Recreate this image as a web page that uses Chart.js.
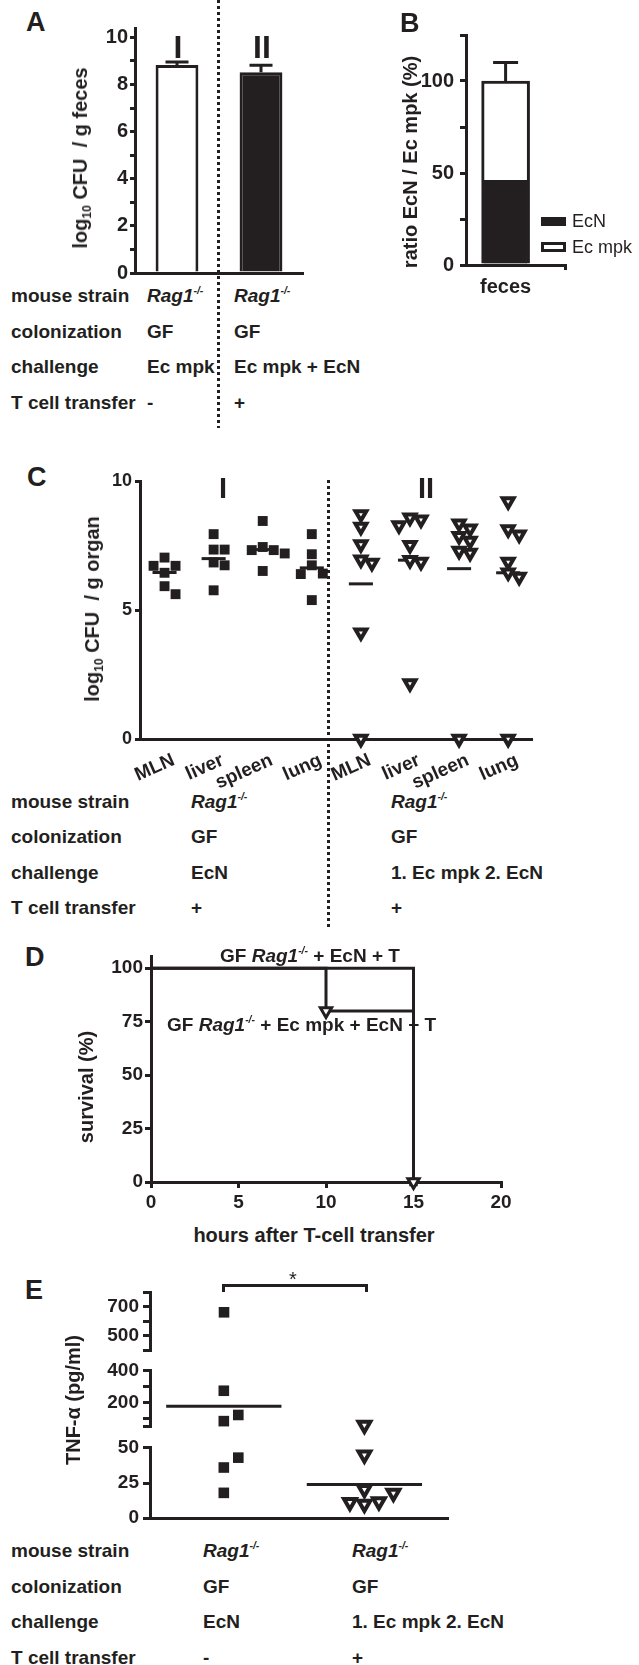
<!DOCTYPE html>
<html><head><meta charset="utf-8">
<script src="https://cdn.jsdelivr.net/npm/chart.js@4.4.1/dist/chart.umd.min.js"></script>
<style>
html,body{margin:0;padding:0;background:#fff;}
#fig{position:relative;width:639px;height:1665px;overflow:hidden;background:#fff;font-family:'Liberation Sans',Arial,Helvetica,sans-serif;font-weight:bold;color:#231f20;}
#fig canvas{position:absolute;}
.t{position:absolute;white-space:nowrap;line-height:1;}
.dots{position:absolute;width:3px;background:repeating-linear-gradient(to bottom,#231f20 0,#231f20 3px,transparent 3px,transparent 6px);}
sup{font-size:0.55em;vertical-align:0.75em;line-height:0;font-style:italic;}
sub{font-size:0.6em;vertical-align:-0.3em;line-height:0;}
</style></head><body><div id="fig"></div>
<script>
// ---------------- DATA ----------------
// Panel A
const A_groups = ['I', 'II'];
const A_log10CFU = [8.83, 8.52];
const A_sem = [0.13, 0.30];
const A_yTicks = [0, 1, 2, 3, 4, 5, 6, 7, 8, 9, 10];
const A_yLabels = [0, 2, 4, 6, 8, 10];
const A_colI = ['Rag1-/-', 'GF', 'Ec mpk', '-'];
const A_colII = ['Rag1-/-', 'GF', 'Ec mpk + EcN', '+'];
// Panel B
const B_categories = ['feces'];
const B_series = ['EcN', 'Ec mpk'];
const B_EcN = [46];
const B_Ecmpk = [54];
const B_sem = [10];
const B_yTicks = [0, 25, 50, 75, 100, 125];
const B_yLabels = [0, 50, 100];
// Panel C
const C_categories = ['MLN', 'liver', 'spleen', 'lung', 'MLN', 'liver', 'spleen', 'lung'];
const C_I_MLN = [7.04, 6.72, 6.72, 6.45, 5.93, 5.62];
const C_I_liver = [7.95, 7.35, 7.35, 6.85, 6.74, 5.77];
const C_I_spleen = [8.46, 7.45, 7.33, 7.33, 7.2, 6.52];
const C_I_lung = [7.95, 7.17, 6.74, 6.42, 6.40, 5.39];
const C_II_MLN = [8.72, 8.23, 7.55, 6.96, 6.83, 4.13, 0];
const C_II_liver = [8.59, 8.51, 8.29, 7.52, 6.94, 6.87, 2.16];
const C_II_spleen = [8.36, 8.16, 7.87, 7.69, 7.30, 7.22, 0];
const C_II_lung = [9.22, 8.13, 7.93, 6.87, 6.46, 6.29, 0];
const C_I_means = [6.46, 7.0, 7.35, 6.64];
const C_II_means = [6.02, 6.94, 6.61, 6.45];
const C_yTicks = [0, 5, 10];
const C_colI = ['Rag1-/-', 'GF', 'EcN', '+'];
const C_colII = ['Rag1-/-', 'GF', '1. Ec mpk 2. EcN', '+'];
// Panel D
const D_hours_EcN = [0, 15];
const D_surv_EcN = [100, 0];
const D_hours_mpkEcN = [0, 10, 15];
const D_surv_mpkEcN = [100, 80, 0];
const D_xTicks = [0, 5, 10, 15, 20];
const D_yTicks = [0, 25, 50, 75, 100];
// Panel E
const E_categories = ['EcN', '1. Ec mpk 2. EcN'];
const E_EcN = [660, 274, 82, 121, 36, 43, 18];
const E_mpkEcN = [57, 45, 20.4, 9.9, 11.8, 11.2, 17.8];
const E_means = [176, 24];
const E_ticksLow = [0, 25, 50], E_labelsLow = [0, 25, 50];
const E_ticksMid = [50, 100, 200, 300, 400], E_labelsMid = [200, 400];
const E_ticksHigh = [400, 500, 600, 700, 800], E_labelsHigh = [500, 700];
const E_colI = ['Rag1-/-', 'GF', 'EcN', '-'];
const E_colII = ['Rag1-/-', 'GF', '1. Ec mpk 2. EcN', '+'];
const T_rows = ['mouse strain', 'colonization', 'challenge', 'T cell transfer'];

// ---------------- HELPERS ----------------
const INK = '#231f20';
const fig = document.getElementById('fig');
Chart.defaults.font.family = "'Liberation Sans', Arial, Helvetica, sans-serif";
Chart.defaults.font.weight = 'bold';
Chart.defaults.color = INK;

function mount(area, m, config) {
  const W = area.r - area.l + m.l + m.r, H = area.b - area.t + m.t + m.b;
  const c = document.createElement('canvas');
  c.width = W; c.height = H;
  c.style.left = (area.l - m.l) + 'px'; c.style.top = (area.t - m.t) + 'px';
  c.style.width = W + 'px'; c.style.height = H + 'px';
  fig.appendChild(c);
  const o = config.options;
  o.responsive = false; o.maintainAspectRatio = false; o.animation = false; o.devicePixelRatio = 1;
  o.layout = { padding: { left: 0, top: m.t, right: m.r, bottom: 0 } };
  o.plugins = Object.assign({ legend: { display: false }, tooltip: { enabled: false } }, o.plugins || {});
  o.scales.x.afterFit = s => { s.height = m.b; s.paddingLeft = 0; s.paddingRight = 0; s.paddingTop = 0; s.paddingBottom = 0; };
  o.scales.y.afterFit = s => { s.width = m.l; s.paddingTop = 0; s.paddingBottom = 0; s.paddingLeft = 0; s.paddingRight = 0; };
  return new Chart(c, config);
}

function yAxis(min, max, ticks, labels, o = {}) {
  return {
    type: 'linear', min, max, bounds: 'data', stacked: !!o.stacked,
    afterBuildTicks: s => { s.ticks = ticks.map(v => ({ value: v })); },
    border: { color: INK, width: 3 },
    grid: { drawOnChartArea: false, color: INK, lineWidth: 3, tickLength: o.tl ?? 6 },
    ticks: { autoSkip: false, color: INK, padding: o.pad ?? 3, font: { size: o.fs ?? 19, weight: 'bold' },
      callback: v => labels.includes(v) ? String(v) : '' }
  };
}

const errPlugin = {
  id: 'errbars',
  afterDatasetsDraw(chart) {
    const ctx = chart.ctx, ys = chart.scales.y;
    chart.data.datasets.forEach((ds, di) => {
      if (!ds.errorPlus) return;
      chart.getDatasetMeta(di).data.forEach((bar, i) => {
        const topVal = ys.getValueForPixel(bar.y);
        const yErr = ys.getPixelForValue(topVal + ds.errorPlus[i]);
        const half = (ds.capWidth || 24) / 2;
        ctx.save(); ctx.strokeStyle = INK; ctx.lineWidth = 3;
        ctx.beginPath(); ctx.moveTo(bar.x, bar.y); ctx.lineTo(bar.x, yErr);
        ctx.moveTo(bar.x - half, yErr); ctx.lineTo(bar.x + half, yErr); ctx.stroke(); ctx.restore();
      });
    });
  }
};

// beeswarm: spread overlapping points of each group sideways (pixel space via chart scales)
function swarm(chart, groups, groupX, stepPx, sizePx) {
  const xs = chart.scales.x, ys = chart.scales.y;
  const unit = xs.getPixelForValue(1) - xs.getPixelForValue(0);
  const out = [];
  groups.forEach((vals, g) => {
    const placed = [];
    vals.forEach(v => {
      const py = ys.getPixelForValue(v);
      let o = 0;
      for (let k = 0; k < 30; k++) {
        o = k === 0 ? 0 : (k % 2 ? 1 : -1) * Math.ceil(k / 2);
        if (placed.every(p => p.o !== o || Math.abs(p.py - py) >= sizePx)) break;
      }
      placed.push({ o, py });
      out.push({ x: groupX[g] + o * stepPx / unit, y: v });
    });
  });
  return out;
}

function txt(html, x, y, o = {}) {
  const d = document.createElement('div');
  d.className = 't';
  d.innerHTML = html;
  d.style.left = x + 'px'; d.style.top = y + 'px';
  d.style.fontSize = (o.size || 19) + 'px';
  if (o.weight) d.style.fontWeight = o.weight;
  let tf = o.align === 'center' ? 'translate(-50%,-50%)' : 'translate(0,-50%)';
  if (o.rot) tf = 'translate(-50%,-50%) rotate(-90deg)';
  d.style.transform = tf;
  fig.appendChild(d);
  return d;
}
const fmt = s => s.replace('Rag1-/-', '<i>Rag1</i><sup>-/-</sup>');
function table(rowsY, colIx, colI, colIIx, colII) {
  T_rows.forEach((r, i) => {
    txt(r, 11, rowsY[i]);
    txt(fmt(colI[i]), colIx, rowsY[i]);
    txt(fmt(colII[i]), colIIx, rowsY[i]);
  });
}
function dots(x, y1, y2) {
  const d = document.createElement('div');
  d.className = 'dots'; d.style.left = x + 'px'; d.style.top = y1 + 'px'; d.style.height = (y2 - y1) + 'px';
  fig.appendChild(d);
}

// ---------------- PANEL A ----------------
mount({ l: 135, t: 28, r: 303, b: 273 }, { l: 75, t: 6, r: 6, b: 6 }, {
  type: 'bar',
  data: { labels: A_groups, datasets: [{
    data: A_log10CFU, errorPlus: A_sem, capWidth: 23,
    backgroundColor: ['#ffffff', INK], borderColor: INK, borderWidth: 3, borderSkipped: 'bottom',
    barPercentage: 0.51, categoryPercentage: 1
  }] },
  options: { scales: {
    x: { type: 'category', offset: true, grid: { display: false }, border: { color: INK, width: 3 }, ticks: { display: false } },
    y: yAxis(0, 10.4, A_yTicks, A_yLabels, { tl: 5, pad: 2, fs: 20 })
  } },
  plugins: [errPlugin]
});

// ---------------- PANEL B ----------------
mount({ l: 466, t: 35, r: 565, b: 265 }, { l: 60, t: 6, r: 6, b: 36 }, {
  type: 'bar',
  data: { datasets: [
    { label: B_series[0], data: B_EcN.map((v, i) => ({ x: i, y: v })), backgroundColor: INK, borderColor: INK, borderWidth: 3, barThickness: 48, borderSkipped: 'bottom' },
    { label: B_series[1], data: B_Ecmpk.map((v, i) => ({ x: i, y: v })), errorPlus: B_sem, capWidth: 25, backgroundColor: '#ffffff', borderColor: INK, borderWidth: 3, barThickness: 48, borderSkipped: 'bottom' }
  ] },
  options: { scales: {
    x: { type: 'linear', min: -0.8, max: 1.2, bounds: 'data', stacked: true, offset: false,
      afterBuildTicks: s => { s.ticks = B_categories.map((c, i) => ({ value: i })); },
      grid: { drawOnChartArea: false, color: INK, lineWidth: 3, tickLength: 5 }, border: { color: INK, width: 3 },
      ticks: { autoSkip: false, padding: 5, color: INK, font: { size: 20, weight: 'bold' }, callback: v => B_categories[v] ?? '' } },
    y: yAxis(0, 125, B_yTicks, B_yLabels, { tl: 6, pad: 6, fs: 20, stacked: true })
  } },
  plugins: [errPlugin]
});

// ---------------- PANEL C ----------------
const C_I = [C_I_MLN, C_I_liver, C_I_spleen, C_I_lung];
const C_II = [C_II_MLN, C_II_liver, C_II_spleen, C_II_lung];
const C_means = [...C_I_means, ...C_II_means];
const chartC = mount({ l: 140, t: 481, r: 533, b: 739 }, { l: 62, t: 10, r: 10, b: 50 }, {
  type: 'scatter',
  data: { datasets: [
    { data: C_I.flatMap((vals, g) => vals.map(v => ({ x: g, y: v }))), pointStyle: 'rect', pointRadius: 7, pointBackgroundColor: INK, pointBorderWidth: 0, clip: false },
    { data: C_II.flatMap((vals, g) => vals.map(v => ({ x: g + 4, y: v }))), pointStyle: 'triangle', pointRotation: 180, pointRadius: 6.3, pointBackgroundColor: '#ffffff', pointBorderColor: INK, pointBorderWidth: 4, clip: false },
    ...C_means.map((mv, g) => ({ data: [{ x: g - 0.245, y: mv }, { x: g + 0.245, y: mv }], showLine: true, pointRadius: 0, borderColor: INK, borderWidth: 3, clip: false }))
  ] },
  options: { scales: {
    x: { type: 'linear', min: -0.5, max: 7.5, bounds: 'data', grid: { display: false }, border: { color: INK, width: 3 },
      afterBuildTicks: s => { s.ticks = C_categories.map((_, i) => ({ value: i })); },
      ticks: { autoSkip: false, minRotation: 24, maxRotation: 24, labelOffset: 9, padding: 2, color: INK, font: { size: 19, weight: 'bold' }, callback: v => C_categories[v] } },
    y: yAxis(0, 10, C_yTicks, C_yTicks, { tl: 5, pad: 3, fs: 18 })
  } }
});
chartC.data.datasets[0].data = swarm(chartC, C_I, [0, 1, 2, 3], 11, 10);
chartC.data.datasets[1].data = swarm(chartC, C_II, [4, 5, 6, 7], 11, 10);
chartC.update('none');

// ---------------- PANEL D ----------------
mount({ l: 151, t: 953, r: 501, b: 1182 }, { l: 70, t: 6, r: 16, b: 36 }, {
  type: 'line',
  data: { datasets: [
    { data: D_hours_mpkEcN.map((h, i) => ({ x: h, y: D_surv_mpkEcN[i] })), stepped: 'before', borderColor: INK, borderWidth: 3, fill: false, clip: false,
      pointStyle: 'triangle', pointRotation: 180, pointRadius: c => c.dataIndex > 0 ? 6.5 : 0, pointBackgroundColor: '#ffffff', pointBorderColor: INK, pointBorderWidth: 3 },
    { data: D_hours_EcN.map((h, i) => ({ x: h, y: D_surv_EcN[i] })), stepped: 'before', borderColor: INK, borderWidth: 3, fill: false, clip: false,
      pointStyle: 'rect', pointRadius: c => c.dataIndex === D_hours_EcN.length - 1 ? 6 : 0, pointBackgroundColor: INK, pointBorderWidth: 0 }
  ] },
  options: { scales: {
    x: { type: 'linear', min: 0, max: 20, bounds: 'data',
      afterBuildTicks: s => { s.ticks = D_xTicks.map(v => ({ value: v })); },
      grid: { drawOnChartArea: false, color: INK, lineWidth: 3, tickLength: 6 }, border: { color: INK, width: 3 },
      ticks: { autoSkip: false, padding: 3, color: INK, font: { size: 19, weight: 'bold' }, maxRotation: 0 } },
    y: yAxis(0, 105.5, D_yTicks, D_yTicks, { tl: 6, pad: 2, fs: 19 })
  } }
});

// ---------------- PANEL E (broken y axis: three stacked segments) ----------------
function mountE(area, m, yMin, yMax, ticks, labels, withBase) {
  const inR = v => v >= yMin && v <= yMax;
  const sq = E_EcN.filter(inR), tr = E_mpkEcN.filter(inR);
  const datasets = [
    { data: sq.map(v => ({ x: 0, y: v })), pointStyle: 'rect', pointRadius: 7.5, pointBackgroundColor: INK, pointBorderWidth: 0, clip: false },
    { data: tr.map(v => ({ x: 1, y: v })), pointStyle: 'triangle', pointRotation: 180, pointRadius: 6.8, pointBackgroundColor: '#ffffff', pointBorderColor: INK, pointBorderWidth: 4, clip: false }
  ];
  E_means.forEach((mv, g) => {
    if (inR(mv)) datasets.push({ data: [{ x: g - 0.41, y: mv }, { x: g + 0.41, y: mv }], showLine: true, pointRadius: 0, borderColor: INK, borderWidth: 3, clip: false });
  });
  const ch = mount(area, m, { type: 'scatter', data: { datasets }, options: { scales: {
    x: { type: 'linear', min: -0.525, max: 1.596, bounds: 'data', grid: { display: false }, border: { display: withBase, color: INK, width: 3 }, ticks: { display: false } },
    y: yAxis(yMin, yMax, ticks, labels, { tl: 7, pad: 4, fs: 19 })
  } } });
  ch.data.datasets[0].data = swarm(ch, [sq], [0], 14.5, 11);
  ch.data.datasets[1].data = swarm(ch, [tr], [1], 14.5, 11);
  ch.update('none');
}
mountE({ l: 150, t: 1292, r: 449, b: 1350 }, { l: 72, t: 8, r: 10, b: 8 }, 400, 800, E_ticksHigh, E_labelsHigh, false);
mountE({ l: 150, t: 1368, r: 449, b: 1429 }, { l: 72, t: 8, r: 10, b: 8 }, 50, 400, E_ticksMid, E_labelsMid, false);
mountE({ l: 150, t: 1445, r: 449, b: 1521 }, { l: 72, t: 8, r: 10, b: 8 }, 0, 50, E_ticksLow, E_labelsLow, true);

// ---------------- TEXT / ANNOTATIONS ----------------
// panel letters
txt('A', 26, 22, { size: 27 });
txt('B', 400, 23, { size: 27 });
txt('C', 27, 477, { size: 27 });
txt('D', 25, 957, { size: 27 });
txt('E', 25, 1290, { size: 27 });

// A
dots(217, 0, 428);
txt(A_groups[0], 178, 47, { size: 32, align: 'center' });
txt(A_groups[1], 262, 47, { size: 32, align: 'center' });
txt('log<sub>10</sub> CFU &nbsp;/ g feces', 80, 158, { rot: true, size: 20 });
table([295, 331, 366, 402], 147, A_colI, 234, A_colII);

// B
txt('ratio EcN / Ec mpk (%)', 410, 162, { rot: true, size: 20 });
(function legend() {
  const b1 = document.createElement('div');
  b1.style.cssText = `position:absolute;left:541px;top:217px;width:25px;height:9px;background:${INK};`;
  const b2 = document.createElement('div');
  b2.style.cssText = `position:absolute;left:541px;top:242px;width:25px;height:10px;box-sizing:border-box;border:3px solid ${INK};background:#fff;`;
  fig.appendChild(b1); fig.appendChild(b2);
  txt(B_series[0], 572, 221, { size: 18, weight: 'normal' });
  txt(B_series[1], 572, 247, { size: 18, weight: 'normal' });
})();

// C
dots(327, 480, 930);
txt('I', 223, 488, { size: 29, align: 'center' });
txt('II', 426, 488, { size: 29, align: 'center' });
txt('log<sub>10</sub> CFU &nbsp;/ g organ', 92, 609, { rot: true, size: 20 });
table([801, 836, 872, 907], 191, C_colI, 391, C_colII);

// D
txt('survival (%)', 86, 1087, { rot: true, size: 20 });
txt('hours after T-cell transfer', 314, 1235, { align: 'center', size: 20 });
txt('GF <i>Rag1</i><sup>-/-</sup> + EcN + T', 220, 955);
txt('GF <i>Rag1</i><sup>-/-</sup> + Ec mpk + EcN + T', 167, 1024);

// E
txt('TNF-\u03b1 (pg/ml)', 73, 1400, { rot: true, size: 20 });
(function bracket() {
  const d = document.createElement('div');
  d.style.cssText = `position:absolute;left:222px;top:1284px;width:146px;height:8px;box-sizing:border-box;border:3px solid ${INK};border-bottom:none;`;
  fig.appendChild(d);
})();
txt('*', 293, 1279, { size: 20, align: 'center', weight: 'normal' });
table([1550, 1586, 1621, 1657], 203, E_colI, 352, E_colII);
</script></body></html>
